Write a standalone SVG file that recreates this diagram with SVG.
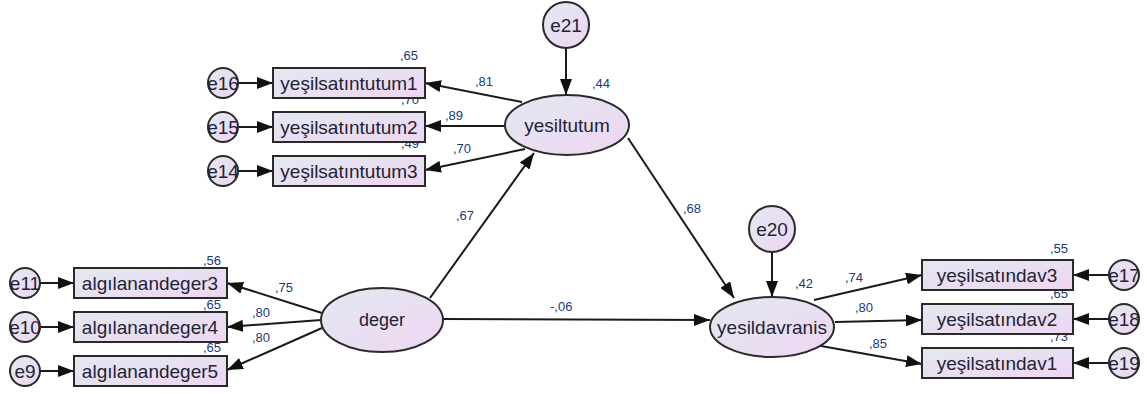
<svg xmlns="http://www.w3.org/2000/svg" width="1147" height="394" viewBox="0 0 1147 394">
<defs>
<linearGradient id="g" x1="0" y1="0" x2="1" y2="1">
<stop offset="0" stop-color="#e2e9f1"/>
<stop offset="1" stop-color="#efd5f2"/>
</linearGradient>
<marker id="ah" markerWidth="17" markerHeight="12" refX="16" refY="6" orient="auto" markerUnits="userSpaceOnUse">
<path d="M0,0 L16,6 L0,12 Z" fill="#111"/>
</marker>
</defs>
<style>
.n{fill:url(#g);stroke:#2a2a2a;stroke-width:2}
.t{font-family:"Liberation Sans",Arial,sans-serif;font-size:19px;fill:#1e2436;text-anchor:middle}
.l{font-family:"Liberation Sans",Arial,sans-serif;font-size:13px;fill:#213a78}
.c line{stroke:#1a1a1a;stroke-width:2;marker-end:url(#ah)}
</style>
<rect width="1147" height="394" fill="#fff"/>
<g id="connectors" class="c">
<line x1="238" y1="83" x2="273" y2="83"/>
<line x1="238" y1="127" x2="273" y2="127"/>
<line x1="238" y1="171" x2="273" y2="171"/>
<line x1="40" y1="283" x2="74" y2="283"/>
<line x1="40" y1="327" x2="74" y2="327"/>
<line x1="40" y1="371" x2="74" y2="371"/>
<line x1="1109" y1="275" x2="1073" y2="275"/>
<line x1="1109" y1="319" x2="1073" y2="319"/>
<line x1="1109" y1="363" x2="1073" y2="363"/>
<line x1="522" y1="102" x2="425" y2="83"/>
<line x1="505" y1="126" x2="425" y2="126"/>
<line x1="525" y1="149" x2="425" y2="170"/>
<line x1="566" y1="48" x2="566" y2="95"/>
<line x1="772" y1="252" x2="772" y2="297"/>
<line x1="430" y1="298" x2="534" y2="153"/>
<line x1="628" y1="138" x2="734" y2="298"/>
<line x1="443" y1="319" x2="710" y2="320"/>
<line x1="322" y1="313" x2="227" y2="283"/>
<line x1="321" y1="320" x2="227" y2="327"/>
<line x1="322" y1="328" x2="227" y2="370"/>
<line x1="814" y1="300" x2="922" y2="275"/>
<line x1="835" y1="322" x2="922" y2="320"/>
<line x1="821" y1="346" x2="922" y2="364"/>
</g>
<g id="labels">
<text class="l" x="400" y="60">,65</text>
<text class="l" x="401" y="104">,70</text>
<text class="l" x="401" y="148">,49</text>
<text class="l" x="203" y="265">,56</text>
<text class="l" x="203" y="309">,65</text>
<text class="l" x="203" y="352">,65</text>
<text class="l" x="1050" y="253">,55</text>
<text class="l" x="1050" y="298">,65</text>
<text class="l" x="1050" y="341">,73</text>
<text class="l" x="475" y="86">,81</text>
<text class="l" x="445" y="120">,89</text>
<text class="l" x="453" y="153">,70</text>
<text class="l" x="592" y="88">,44</text>
<text class="l" x="456" y="220">,67</text>
<text class="l" x="683" y="213">,68</text>
<text class="l" x="550" y="311">-,06</text>
<text class="l" x="795" y="288">,42</text>
<text class="l" x="845" y="282">,74</text>
<text class="l" x="855" y="312">,80</text>
<text class="l" x="869" y="348">,85</text>
<text class="l" x="275" y="292">,75</text>
<text class="l" x="252" y="317">,80</text>
<text class="l" x="252" y="342">,80</text>
</g>
<g id="yesiltutum"><ellipse class="n" cx="567" cy="125" rx="62" ry="30"/><text class="t" x="567" y="132">yesiltutum</text></g>
<g id="deger"><ellipse class="n" cx="382" cy="320" rx="61" ry="32"/><text class="t" x="382" y="326" style="font-size:18px">deger</text></g>
<g id="yesildavranis"><ellipse class="n" cx="772" cy="327" rx="62" ry="30"/><text class="t" x="772" y="334">yesildavranis</text></g>
<g id="e21"><circle class="n" cx="566" cy="25" r="23"/><text class="t" x="566" y="32">e21</text></g>
<g id="e20"><circle class="n" cx="772" cy="229" r="23"/><text class="t" x="772" y="236">e20</text></g>
<g id="ysi1"><rect class="n" x="273" y="68" width="152" height="30"/><text class="t" x="349" y="90">yeşilsatıntutum1</text></g>
<g id="ysi2"><rect class="n" x="273" y="112" width="152" height="30"/><text class="t" x="349" y="134">yeşilsatıntutum2</text></g>
<g id="ysi3"><rect class="n" x="273" y="156" width="152" height="30"/><text class="t" x="349" y="178">yeşilsatıntutum3</text></g>
<g id="ad3"><rect class="n" x="74" y="268" width="153" height="30"/><text class="t" x="150" y="290">algılanandeger3</text></g>
<g id="ad4"><rect class="n" x="74" y="312" width="153" height="30"/><text class="t" x="150" y="334">algılanandeger4</text></g>
<g id="ad5"><rect class="n" x="74" y="356" width="153" height="30"/><text class="t" x="150" y="378">algılanandeger5</text></g>
<g id="yd3"><rect class="n" x="922" y="260" width="151" height="30"/><text class="t" x="997" y="282">yeşilsatındav3</text></g>
<g id="yd2"><rect class="n" x="922" y="304" width="151" height="30"/><text class="t" x="997" y="326">yeşilsatındav2</text></g>
<g id="yd1"><rect class="n" x="922" y="348" width="151" height="30"/><text class="t" x="997" y="370">yeşilsatındav1</text></g>
<g id="e16"><circle class="n" cx="223" cy="83" r="15"/><text class="t" x="223" y="90">e16</text></g>
<g id="e15"><circle class="n" cx="223" cy="127" r="15"/><text class="t" x="223" y="134">e15</text></g>
<g id="e14"><circle class="n" cx="223" cy="171" r="15"/><text class="t" x="223" y="178">e14</text></g>
<g id="e11"><circle class="n" cx="25" cy="283" r="15"/><text class="t" x="25" y="290">e11</text></g>
<g id="e10"><circle class="n" cx="25" cy="327" r="15"/><text class="t" x="25" y="334">e10</text></g>
<g id="e9"><circle class="n" cx="25" cy="371" r="15"/><text class="t" x="25" y="378">e9</text></g>
<g id="e17"><circle class="n" cx="1124" cy="275" r="15"/><text class="t" x="1124" y="282">e17</text></g>
<g id="e18"><circle class="n" cx="1124" cy="319" r="15"/><text class="t" x="1124" y="326">e18</text></g>
<g id="e19"><circle class="n" cx="1124" cy="363" r="15"/><text class="t" x="1124" y="370">e19</text></g>
</svg>
